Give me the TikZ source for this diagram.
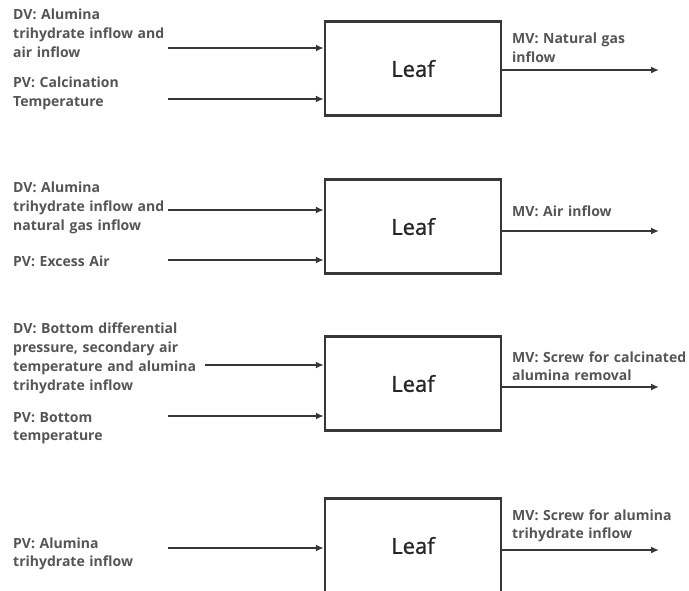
\documentclass[tikz,border=0pt]{standalone}
\usepackage{fontspec}
\setmainfont{Open Sans}
\newfontfamily\leaffont{Open Sans}[FakeBold=1.2]
\usepackage{tikz}
\usetikzlibrary{positioning}
\usetikzlibrary{arrows.meta}

\definecolor{lblgray}{RGB}{85,85,85}
\definecolor{linegray}{RGB}{55,55,55}

\begin{document}
\begin{tikzpicture}[x=1pt,y=-1pt,
  leafbox/.style={draw=linegray,line width=2.4pt,minimum width=176pt,minimum height=94pt,inner sep=0pt,font=\leaffont\fontsize{22}{26}\selectfont,text=black!85},
  lbl/.style={anchor=base west,inner sep=0pt,text width=200pt,align=left,font=\bfseries\fontsize{14}{18.7}\selectfont,text=lblgray},
  flow/.style={draw=linegray,line width=2.4pt,-{Latex[length=8pt,width=7pt]}}]
\useasboundingbox (0,0) rectangle (689,591);
\clip (0,0) rectangle (689,591);

\node[leafbox] (leaf1) at (413,68.5) {Leaf};
\node[leafbox] (leaf2) at (413,226.5) {Leaf};
\node[leafbox] (leaf3) at (413,383.5) {Leaf};
\node[leafbox] (leaf4) at (413,545.5) {Leaf};

\node[lbl] (dv1) at (13,20) {DV: Alumina\\trihydrate inflow and\\air inflow};
\node[lbl] (pv1) at (13,88) {PV: Calcination\\Temperature};
\node[lbl] (mv1) at (512,44) {MV: Natural gas\\inflow};
\coordinate (in1a) at (168,48);
\coordinate (in1b) at (168,99);
\coordinate (out1) at (659,70);
\draw[flow] (in1a) -- (in1a -| leaf1.west);
\draw[flow] (in1b) -- (in1b -| leaf1.west);
\draw[flow] (leaf1.east |- out1) -- (out1);

\node[lbl] (dv2) at (13,193) {DV: Alumina\\trihydrate inflow and\\natural gas inflow};
\node[lbl] (pv2) at (13,267) {PV: Excess Air};
\node[lbl] (mv2) at (512,217) {MV: Air inflow};
\coordinate (in2a) at (168,210);
\coordinate (in2b) at (168,260);
\coordinate (out2) at (659,231);
\draw[flow] (in2a) -- (in2a -| leaf2.west);
\draw[flow] (in2b) -- (in2b -| leaf2.west);
\draw[flow] (leaf2.east |- out2) -- (out2);

\node[lbl] (dv3) at (13,334) {DV: Bottom differential\\pressure, secondary air\\temperature and alumina\\trihydrate inflow};
\node[lbl] (pv3) at (13,422) {PV: Bottom\\temperature};
\node[lbl] (mv3) at (512,362) {MV: Screw for calcinated\\alumina removal};
\coordinate (in3a) at (205,365);
\coordinate (in3b) at (168,416);
\coordinate (out3) at (659,387);
\draw[flow] (in3a) -- (in3a -| leaf3.west);
\draw[flow] (in3b) -- (in3b -| leaf3.west);
\draw[flow] (leaf3.east |- out3) -- (out3);

\node[lbl] (pv4) at (13,548) {PV: Alumina\\trihydrate inflow};
\node[lbl] (mv4) at (512,520) {MV: Screw for alumina\\trihydrate inflow};
\coordinate (in4) at (168,548);
\coordinate (out4) at (659,550);
\draw[flow] (in4) -- (in4 -| leaf4.west);
\draw[flow] (leaf4.east |- out4) -- (out4);

\end{tikzpicture}
\end{document}
